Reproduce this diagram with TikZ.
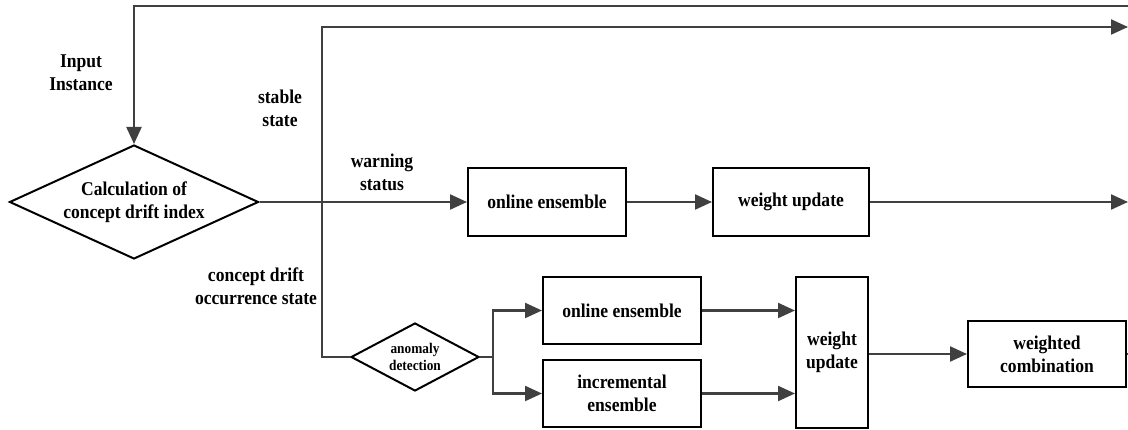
\documentclass[tikz,border=0pt]{standalone}
\usepackage{fontspec}
\setmainfont[FakeStretch=0.9]{Liberation Serif}
\usetikzlibrary{shapes.geometric,arrows.meta}
\begin{document}
\begin{tikzpicture}[x=1pt,y=-1pt,line width=2pt]
\tikzset{ >={Triangle[length=17pt,width=15pt]},
  box/.style={draw=black, line width=2pt, rectangle, inner sep=0pt, align=center,
    font=\bfseries\fontsize{19.5}{23}\selectfont},
  test/.style={draw=black, line width=2pt, diamond, inner sep=0pt, align=center,
    font=\bfseries\fontsize{19.5}{23}\selectfont},
  flow/.style={draw=black!75, line width=2.2pt},
  lbl/.style={inner sep=0pt, align=center,
    font=\bfseries\fontsize{19.5}{23}\selectfont},
}
\useasboundingbox (0,0) rectangle (1128,430);
%\draw [lightgray, dashed](0,0) grid [step=50] (1128,430);

\node [test, minimum width=249pt, minimum height=114pt, aspect=2.18] (calc) at (134,202) {Calculation of\\concept drift index};
\node [test, minimum width=128pt, minimum height=68pt, aspect=1.88,
  font=\bfseries\fontsize{14.8}{17.7}\selectfont] (anom) at (415,357) {anomaly\\detection};

\node [box, minimum width=158pt, minimum height=68pt] (ens1) at (547,202) {online ensemble};
\node [box, minimum width=156pt, minimum height=68pt] (wu1)  at (791,202) {weight update};

\node [box, minimum width=158pt, minimum height=67pt] (ens2) at (622,310.5) {online ensemble};
\node [box, minimum width=158pt, minimum height=67pt] (inc)  at (622,393.5) {incremental\\ensemble};
\node [box, minimum width=72pt, minimum height=151pt] (wu2)  at (832,352.5) {weight\\update};
\node [box, minimum width=158pt, minimum height=66pt] (wc)   at (1047,354) {weighted\\combination};

\coordinate (in) at (1128,6);
\coordinate (st) at (1128,27);
\coordinate (wo) at (1128,202);
\coordinate (co) at (1128,354);
\coordinate (sp) at (322,202);
\coordinate (br) at (493,357);

\draw [flow, ->] (in) -| (calc.north);
\draw [flow, ->] (calc.east) -- (ens1.west);
\draw [flow, ->] (sp) |- (st);
\draw [flow]     (sp) |- (anom.west);
\draw [flow, ->] (ens1) -- (wu1);
\draw [flow, ->] (wu1) -- (wo);

\draw [flow]     (anom.east) -- (br);
\draw [flow, ->] (br) |- (ens2.west);
\draw [flow, ->] (br) |- (inc.west);
\draw [flow, ->] (ens2.east) -- (ens2.east -| wu2.west);
\draw [flow, ->] (inc.east) -- (inc.east -| wu2.west);
\draw [flow, ->] (wu2.east |- wc.west) -- (wc.west);
\draw [flow]     (wc.east) -- (co);

\node [lbl] (inp) at (81,73)  {Input\\Instance};
\node [lbl] (stb) at (280,108) {stable\\state};
\node [lbl] (wrn) at (382,172) {warning\\status};
\node [lbl] (cdo) at (256,286) {concept drift\\occurrence state};

\end{tikzpicture}
\end{document}
